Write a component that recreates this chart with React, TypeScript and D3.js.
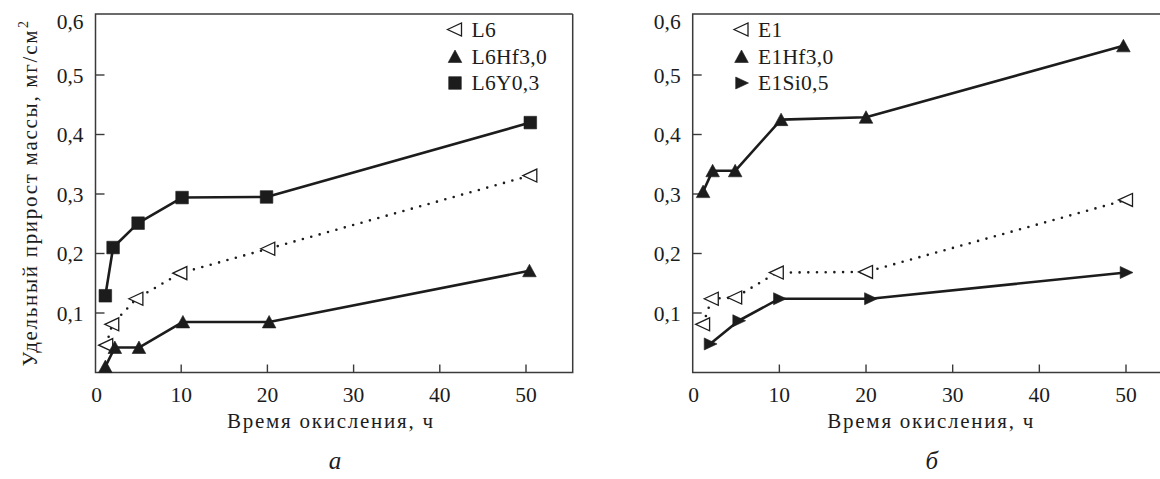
import React from 'react';
import * as d3 from 'd3';

// ---- data ----
const xTicks = [0, 10, 20, 30, 40, 50];
const yTicks = [0.1, 0.2, 0.3, 0.4, 0.5, 0.6];

const L6_x = [1.3, 2.0, 4.8, 9.9, 20.1, 50.5];
const L6_y = [0.046, 0.081, 0.124, 0.167, 0.208, 0.331];
const L6Hf_x = [1.2, 2.3, 5.1, 10.2, 20.2, 50.4];
const L6Hf_y = [0.01, 0.042, 0.042, 0.085, 0.085, 0.171];
const L6Y_x = [1.2, 2.1, 5.0, 10.1, 19.9, 50.5];
const L6Y_y = [0.129, 0.21, 0.251, 0.294, 0.295, 0.42];

const E1_x = [1.2, 2.2, 4.9, 9.7, 20.0, 50.0];
const E1_y = [0.081, 0.124, 0.126, 0.168, 0.169, 0.29];
const E1Hf_x = [1.2, 2.3, 4.9, 10.2, 20.0, 49.7];
const E1Hf_y = [0.304, 0.339, 0.339, 0.425, 0.429, 0.549];
const E1Si_x = [2.0, 5.3, 10.0, 20.5, 50.0];
const E1Si_y = [0.048, 0.087, 0.124, 0.124, 0.168];

const leftNames = ['L6', 'L6Hf3,0', 'L6Y0,3'];
const rightNames = ['E1', 'E1Hf3,0', 'E1Si0,5'];
const xTitle = 'Время окисления, ч';
const yTitle = 'Удельный прирост массы, мг/см';

type Marker = 'tl' | 'tu' | 'sq' | 'tr';
interface Series { xs: number[]; ys: number[]; marker: Marker; dotted: boolean; }

const FONT_STYLE = { fontFamily: '"Liberation Serif"' };
const INK = '#1c1c1c';

const yScale = d3.scaleLinear().domain([0, 0.6]).range([372.5, 15.5]);
const BOX_TOP = 14;
const BOX_BOTTOM = 372.5;

const fmt = (v: number) => d3.format('.1f')(v).replace('.', ',');

function markerPath(m: Marker): string {
  switch (m) {
    case 'tl': return 'M-7.5,0L6.5,-6.5L6.5,6.5Z';
    case 'tu': return 'M0,-6.5L6.8,6L-6.8,6Z';
    case 'sq': return 'M-6.3,-6.3H6.3V6.3H-6.3Z';
    case 'tr': return 'M7,0L-5.8,-6L-5.8,6Z';
  }
}

function MarkerEl({ m, x, y }: { m: Marker; x: number; y: number }) {
  const open = m === 'tl';
  return (
    <path
      d={markerPath(m)}
      transform={`translate(${x},${y})`}
      fill={open ? '#fff' : INK}
      stroke={INK}
      strokeWidth={open ? 1.3 : 0.6}
      strokeLinejoin="miter"
    />
  );
}

interface PanelProps {
  x: d3.ScaleLinear<number, number>;
  boxLeft: number;
  boxRight: number;
  series: Series[];
  names: string[];
  legendX: number;
  letter: string;
  letterX: number;
  titleX: number;
  drawRight: boolean;
}

function Panel({ x, boxLeft, boxRight, series, names, legendX, letter, letterX, titleX, drawRight }: PanelProps) {
  const line = d3.line<[number, number]>().x(d => x(d[0])).y(d => yScale(d[1]));
  const legendRows = [29.5, 56.5, 83];
  return (
    <g>
      {/* frame */}
      <path
        d={`M${boxRight},${BOX_TOP}H${boxLeft}V${BOX_BOTTOM}H${boxRight}${drawRight ? `V${BOX_TOP}` : ''}`}
        fill="none"
        stroke="#3a3a3a"
        strokeWidth={1.5}
      />
      {/* x ticks */}
      {xTicks.map(t => (
        <g key={'xt' + t}>
          {t > 0 && <line x1={x(t)} x2={x(t)} y1={BOX_BOTTOM} y2={BOX_BOTTOM - 8} stroke="#3a3a3a" strokeWidth={1.4} />}
          <text x={t === 0 ? boxLeft + 1 : x(t)} y={402} textAnchor="middle" style={FONT_STYLE} fontSize={21.5} fill={INK}>{t}</text>
        </g>
      ))}
      {/* y ticks */}
      {yTicks.map(t => (
        <g key={'yt' + t}>
          {t < 0.6 && <line x1={boxLeft} x2={boxLeft + 9} y1={yScale(t)} y2={yScale(t)} stroke="#3a3a3a" strokeWidth={1.4} />}
          <text x={boxLeft - 12} y={yScale(t) + (t >= 0.6 ? 13.5 : 7.8)} textAnchor="end" style={FONT_STYLE} fontSize={21.5} fill={INK}>{fmt(t)}</text>
        </g>
      ))}
      {/* lines */}
      {series.map((s, i) => (
        <path
          key={'l' + i}
          d={line(s.xs.map((v, j) => [v, s.ys[j]] as [number, number])) || ''}
          fill="none"
          stroke={INK}
          strokeWidth={2.6}
          strokeDasharray={s.dotted ? '0 8.7' : undefined}
          strokeLinecap={s.dotted ? 'round' : 'butt'}
          strokeLinejoin="round"
        />
      ))}
      {/* markers */}
      {series.map((s, i) => (
        <g key={'m' + i}>
          {s.xs.map((v, j) => <MarkerEl key={j} m={s.marker} x={x(v)} y={yScale(s.ys[j])} />)}
        </g>
      ))}
      {/* legend */}
      {series.map((s, i) => (
        <g key={'lg' + i}>
          <MarkerEl m={s.marker} x={legendX} y={legendRows[i]} />
          <text x={legendX + 16.5} y={legendRows[i] + 7} style={FONT_STYLE} fontSize={21.5} letterSpacing={0.3} fill={INK}>{names[i]}</text>
        </g>
      ))}
      {/* x title */}
      <text x={titleX} y={428} textAnchor="middle" style={FONT_STYLE} fontSize={21} fill={INK} textLength={206} lengthAdjust="spacing">{xTitle}</text>
      {/* panel letter */}
      <text x={letterX} y={468.5} textAnchor="middle" style={FONT_STYLE} fontStyle="italic" fontSize={25} fill={INK}>{letter}</text>
    </g>
  );
}

export default function App() {
  const xLeft = d3.scaleLinear().domain([0, 50]).range([95, 526]);
  const xRight = d3.scaleLinear().domain([0, 50]).range([692.7, 1126]);

  const leftSeries: Series[] = [
    { xs: L6_x, ys: L6_y, marker: 'tl', dotted: true },
    { xs: L6Hf_x, ys: L6Hf_y, marker: 'tu', dotted: false },
    { xs: L6Y_x, ys: L6Y_y, marker: 'sq', dotted: false },
  ];
  const rightSeries: Series[] = [
    { xs: E1_x, ys: E1_y, marker: 'tl', dotted: true },
    { xs: E1Hf_x, ys: E1Hf_y, marker: 'tu', dotted: false },
    { xs: E1Si_x, ys: E1Si_y, marker: 'tr', dotted: false },
  ];

  return (
    <svg
      width={1160}
      height={479}
      viewBox="0 0 1160 479"
      style={{ position: 'absolute', left: 0, top: 0, background: '#fff' }}
    >
      <rect x={0} y={0} width={1160} height={479} fill="#fff" />
      <Panel x={xLeft} boxLeft={95.5} boxRight={572.7} series={leftSeries} names={leftNames}
        legendX={455} letter="а" letterX={335} titleX={330} drawRight={true} />
      <Panel x={xRight} boxLeft={692.7} boxRight={1175} series={rightSeries} names={rightNames}
        legendX={741.5} letter="б" letterX={931.7} titleX={930.3} drawRight={false} />
      {/* y-axis title */}
      <text transform="translate(37,366.5) rotate(-90)" textAnchor="start" style={FONT_STYLE} fontSize={21} fill={INK}
        textLength={336} lengthAdjust="spacing">{yTitle}</text>
      <text transform="translate(28,28) rotate(-90)" textAnchor="start" style={FONT_STYLE} fontSize={14} fill={INK}>2</text>
    </svg>
  );
}
